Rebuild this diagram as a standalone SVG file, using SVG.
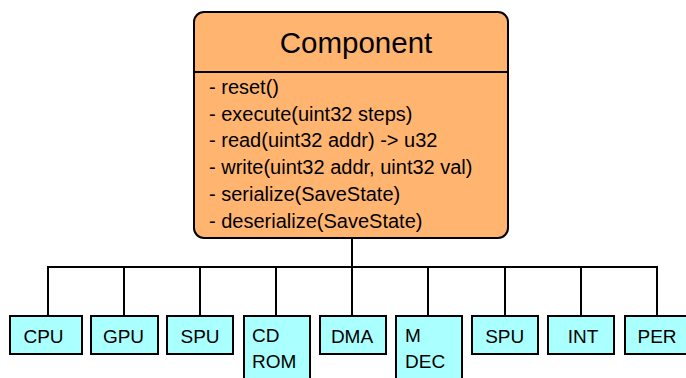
<svg xmlns="http://www.w3.org/2000/svg" width="686" height="378" viewBox="0 0 686 378">
<style>
.main{fill:#FFB570;stroke:#000;stroke-width:2}
.node rect{fill:#AAFFFF;stroke:#000;stroke-width:2}
.t{font-family:"Liberation Sans",Arial,sans-serif;fill:#000}
.lbl{font-size:19px}
.m{font-size:20px}
.conn path{fill:none;stroke:#000;stroke-width:2}
</style>
<g class="conn">
<path d="M352 238V267"/>
<path d="M48 316V267H657V316"/>
<path d="M124 267V316M200 267V316M276 267V316M352 267V316M428 267V316M505 267V316M581 267V316"/>
</g>
<g id="component">
<rect class="main" x="194" y="12" width="314" height="226" rx="10"/>
<path d="M194 72H508" stroke="#000" stroke-width="2"/>
<text class="t" x="356" y="53" font-size="29.5" text-anchor="middle">Component</text>
<text class="t m" x="209" y="94">- reset()</text>
<text class="t m" x="209" y="120.7">- execute(uint32 steps)</text>
<text class="t m" x="209" y="147.4">- read(uint32 addr) -&gt; u32</text>
<text class="t m" x="209" y="174.1">- write(uint32 addr, uint32 val)</text>
<text class="t m" x="209" y="200.8">- serialize(SaveState)</text>
<text class="t m" x="209" y="227.5">- deserialize(SaveState)</text>
</g>
<g id="cpu" class="node"><rect x="10" y="316" width="72" height="38"/><text class="t lbl" x="43.5" y="343" text-anchor="middle">CPU</text></g>
<g id="gpu" class="node"><rect x="91" y="316" width="67" height="38"/><text class="t lbl" x="123.5" y="343" text-anchor="middle">GPU</text></g>
<g id="spu1" class="node"><rect x="167" y="316" width="66" height="38"/><text class="t lbl" x="200" y="343" text-anchor="middle">SPU</text></g>
<g id="cdrom" class="node"><rect x="244" y="316" width="66" height="70"/><text class="t lbl" x="252" y="342">CD</text><text class="t lbl" x="252" y="368">ROM</text></g>
<g id="dma" class="node"><rect x="320" y="316" width="66" height="38"/><text class="t lbl" x="352" y="343" text-anchor="middle">DMA</text></g>
<g id="mdec" class="node"><rect x="396" y="316" width="66" height="70"/><text class="t lbl" x="405" y="342">M</text><text class="t lbl" x="405" y="368">DEC</text></g>
<g id="spu2" class="node"><rect x="472" y="316" width="66" height="38"/><text class="t lbl" x="504.7" y="343" text-anchor="middle">SPU</text></g>
<g id="int" class="node"><rect x="548" y="316" width="66" height="38"/><text class="t lbl" x="583" y="343" text-anchor="middle">INT</text></g>
<g id="per" class="node"><rect x="625" y="316" width="66" height="38"/><text class="t lbl" x="657" y="343" text-anchor="middle">PER</text></g>
</svg>
